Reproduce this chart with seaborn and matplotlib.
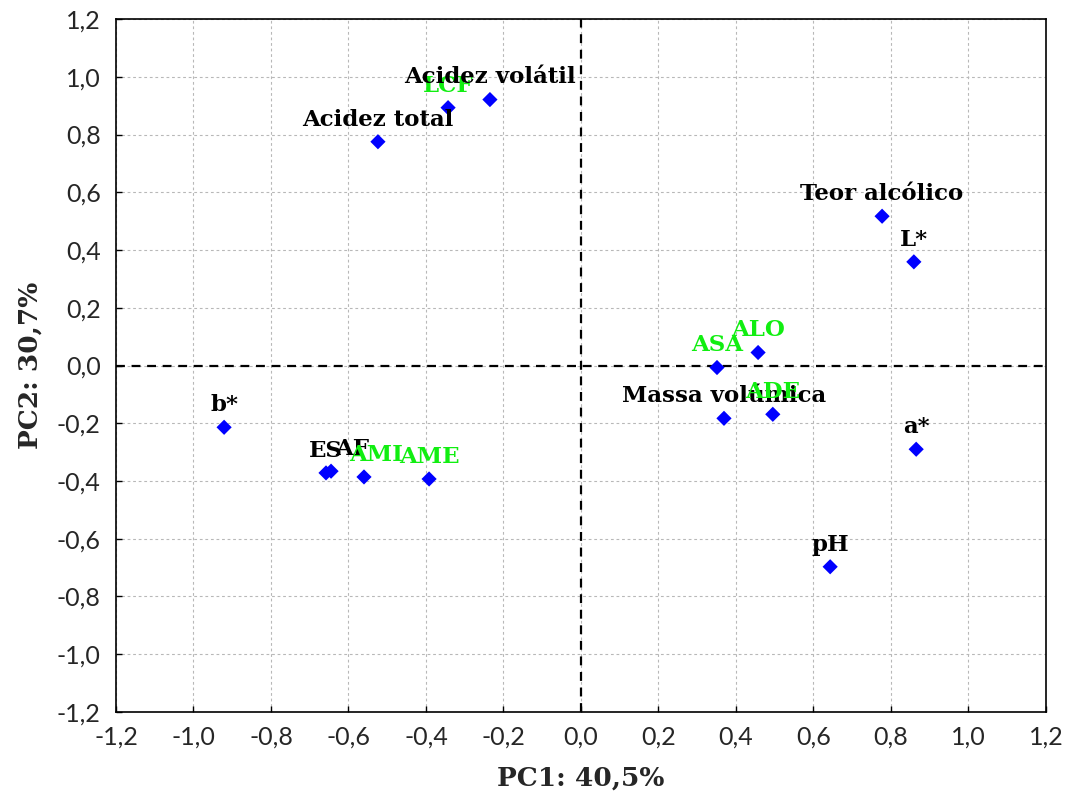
import matplotlib
matplotlib.use("Agg")
import matplotlib.pyplot as plt
import seaborn as sns
import pandas as pd

# Loadings / scores on the first two principal components
labels = ["Acidez total", "LCF", "Acidez volátil", "Teor alcólico", "L*",
          "ALO", "ASA", "Massa volúmica", "ADE", "a*", "pH",
          "b*", "ES", "AF", "AMI", "AME"]
pc1 = [-0.524, -0.343, -0.235, 0.777, 0.859,
       0.457, 0.351, 0.369, 0.495, 0.865, 0.643,
       -0.921, -0.658, -0.645, -0.560, -0.392]
pc2 = [0.775, 0.893, 0.921, 0.517, 0.359,
       0.045, -0.007, -0.183, -0.169, -0.290, -0.697,
       -0.214, -0.372, -0.366, -0.386, -0.393]
groups = ["var", "obs", "var", "var", "var",
          "obs", "obs", "var", "obs", "var", "var",
          "var", "var", "var", "obs", "obs"]

ticks = [-1.2, -1.0, -0.8, -0.6, -0.4, -0.2, 0.0, 0.2, 0.4, 0.6, 0.8, 1.0, 1.2]
tick_labels = ["-1,2", "-1,0", "-0,8", "-0,6", "-0,4", "-0,2", "0,0",
               "0,2", "0,4", "0,6", "0,8", "1,0", "1,2"]
xlabel = "PC1: 40,5%"
ylabel = "PC2: 30,7%"

# horizontal nudges (points) for crowded labels
label_nudge = {"AF": 15, "AMI": 9}

df = pd.DataFrame({"label": labels, "PC1": pc1, "PC2": pc2, "group": groups})

sns.set_style("white")
fig = plt.figure(figsize=(10.68, 7.99), dpi=100)
ax = fig.add_axes([0.1086, 0.1089, 0.9794 - 0.1086, 0.9762 - 0.1089])

ax.set_xlim(-1.2, 1.2)
ax.set_ylim(-1.2, 1.2)
ax.set_xticks(ticks)
ax.set_yticks(ticks)
ax.grid(True, color="#b8b8b8", linestyle=(0, (2.5, 2.5)), linewidth=0.8)
ax.set_axisbelow(True)

ax.axhline(0, color="black", linestyle=(0, (4, 3)), linewidth=1.6, zorder=1)
ax.axvline(0, color="black", linestyle=(0, (4, 3)), linewidth=1.6, zorder=1)

sns.scatterplot(data=df, x="PC1", y="PC2", marker="D", s=60, color="#0000ff",
                edgecolor="none", ax=ax, zorder=3, legend=False)

label_font = ["DejaVu Serif"]
for lab, x, y, g in zip(labels, pc1, pc2, groups):
    ax.annotate(lab, (x, y), xytext=(label_nudge.get(lab, 0), 8),
                textcoords="offset points",
                ha="center", va="bottom", fontsize=16.5, fontweight="bold",
                family=label_font,
                color="black" if g == "var" else "#11ee11", zorder=4)

tick_font = "Lato"
ax.set_xticklabels(tick_labels, fontsize=18, family=tick_font)
ax.set_yticklabels(tick_labels, fontsize=18, family=tick_font)
ax.tick_params(axis="x", direction="in", length=4, width=1, color="black", pad=10,
               bottom=True)
ax.tick_params(axis="y", direction="in", length=4, width=1, color="black", pad=11,
               left=True)

ax.set_xlabel(xlabel, fontsize=19, fontweight="bold", family=label_font, labelpad=12)
ax.set_ylabel(ylabel, fontsize=19, fontweight="bold", family=label_font, labelpad=10)

for s in ax.spines.values():
    s.set_color("black")
    s.set_linewidth(1.2)

fig.savefig("out.png", dpi=100, facecolor="white")
